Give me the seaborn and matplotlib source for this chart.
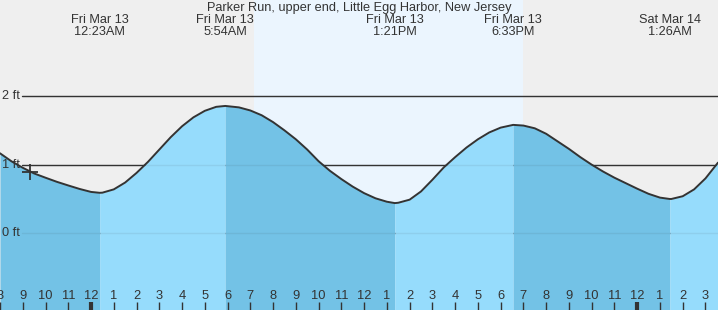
import numpy as np
import pandas as pd
import matplotlib
matplotlib.use("Agg")
import matplotlib.pyplot as plt
import seaborn as sns

# ---- data (hours from midnight Fri Mar 13, tide height in ft) ----
hours = [-4, -3.5, -3, -2.5, -2, -1.5, -1, -0.5, 0, 0.38,
         0.5, 1, 1.5, 2, 2.5, 3, 3.5, 4, 4.5, 5, 5.5, 5.9,
         6.5, 7, 7.5, 8, 8.5, 9, 9.5, 10, 10.5, 11, 11.5, 12, 12.5, 13, 13.35,
         13.5, 14, 14.5, 15, 15.5, 16, 16.5, 17, 17.5, 18, 18.55,
         19, 19.5, 20, 20.5, 21, 21.5, 22, 22.5, 23, 23.5, 24, 24.5, 25, 25.43,
         25.5, 26, 26.5, 27, 27.55]
tide = [1.166, 1.05, 0.955, 0.872, 0.81, 0.75, 0.697, 0.646, 0.603, 0.59,
        0.592, 0.64, 0.74, 0.88, 1.04, 1.22, 1.40, 1.56, 1.69, 1.785, 1.843, 1.856,
        1.835, 1.79, 1.72, 1.62, 1.50, 1.37, 1.22, 1.05, 0.91, 0.79, 0.68, 0.585, 0.51, 0.46, 0.44,
        0.445, 0.49, 0.61, 0.78, 0.96, 1.11, 1.25, 1.37, 1.47, 1.54, 1.58,
        1.57, 1.53, 1.45, 1.34, 1.23, 1.11, 1.00, 0.90, 0.81, 0.73, 0.65, 0.575, 0.52, 0.50,
        0.50, 0.54, 0.64, 0.80, 1.03]

extreme_hours = [0.38, 5.9, 13.35, 18.55, 25.43]
extreme_dates = ["Fri Mar 13", "Fri Mar 13", "Fri Mar 13", "Fri Mar 13", "Sat Mar 14"]
extreme_times = ["12:23AM", "5:54AM", "1:21PM", "6:33PM", "1:26AM"]

sunrise, sunset = 7.16, 18.97
now_hour, now_tide = -2.68, 0.90

tick_hours = list(range(-4, 28))
tick_labels = [str(h % 12 if h % 12 else 12) for h in tick_hours]
ft_levels = [0, 1, 2]
ft_labels = ["0 ft", "1 ft", "2 ft"]

title = "Parker Run, upper end, Little Egg Harbor, New Jersey"

# ---- plot ----
sns.set_theme(style="white")
plt.rcParams["font.family"] = ["Liberation Sans", "DejaVu Sans"]

df = pd.DataFrame({"hour": hours, "tide": tide})
h = np.array(hours)
t = np.array(tide)

fig = plt.figure(figsize=(7.18, 3.10), dpi=100)
ax = fig.add_axes([0, 0, 1, 1])
ax.set_axisbelow(False)
ax.set_facecolor("#efefef")
ax.set_xlim(-4.0, 27.55)
ax.set_ylim(-1.118, 3.40)

ax.axvspan(sunrise, sunset, color="#ebf5fe", zorder=0, lw=0)

for lv in ft_levels:
    ax.axhline(lv, xmin=22 / 718, color="#333333", lw=1, zorder=1)

DARK = "#73c2e6"
LIGHT = "#96dcfc"
bounds = [h[0]] + extreme_hours + [h[-1]]
for i in range(len(bounds) - 1):
    a, b = bounds[i], bounds[i + 1]
    col = DARK if i % 2 == 0 else LIGHT
    mask = (h >= a) & (h <= b)
    ax.fill_between(h, -2, t, where=mask, color=col, lw=0, zorder=2)

for lv in ft_levels:
    ax.axhline(lv, xmin=22 / 718, color="#333333", lw=1, alpha=0.08, zorder=3)

sns.lineplot(data=df, x="hour", y="tide", color="#333333", lw=1.4, zorder=4, ax=ax)
ax.plot([now_hour], [now_tide], marker="+", ms=11, mew=1.3, color="#333333", zorder=5)

for lv, lab in zip(ft_levels, ft_labels):
    ax.text(-3.93, lv, lab, ha="left", va="center", fontsize=9.2, color="#333333", zorder=6)

ax.set_xticks(tick_hours)
ax.set_xticklabels(tick_labels)
ax.set_yticks([])
ax.set_xlabel("")
ax.set_ylabel("")
ax.tick_params(axis="x", bottom=True, direction="in", length=5.8, width=1, color="#333333",
               labelsize=9.3, labelcolor="#333333", pad=-14.5)
for tick, hr in zip(ax.xaxis.get_major_ticks(), tick_hours):
    if hr % 24 == 0:
        tick.tick1line.set_markeredgewidth(3)
for sp in ax.spines.values():
    sp.set_visible(False)

tr = ax.get_xaxis_transform()
for xh, d, tm in zip(extreme_hours, extreme_dates, extreme_times):
    ax.text(xh, 1 - 20 / 310, d, transform=tr, ha="center", va="center", fontsize=9.2, color="#333333")
    ax.text(xh, 1 - 32 / 310, tm, transform=tr, ha="center", va="center", fontsize=9.2, color="#333333")

fig.text(0.5, 1 - 7.5 / 310, title, ha="center", va="center", fontsize=9.2, color="#333333")

fig.savefig("out.png", dpi=100)
